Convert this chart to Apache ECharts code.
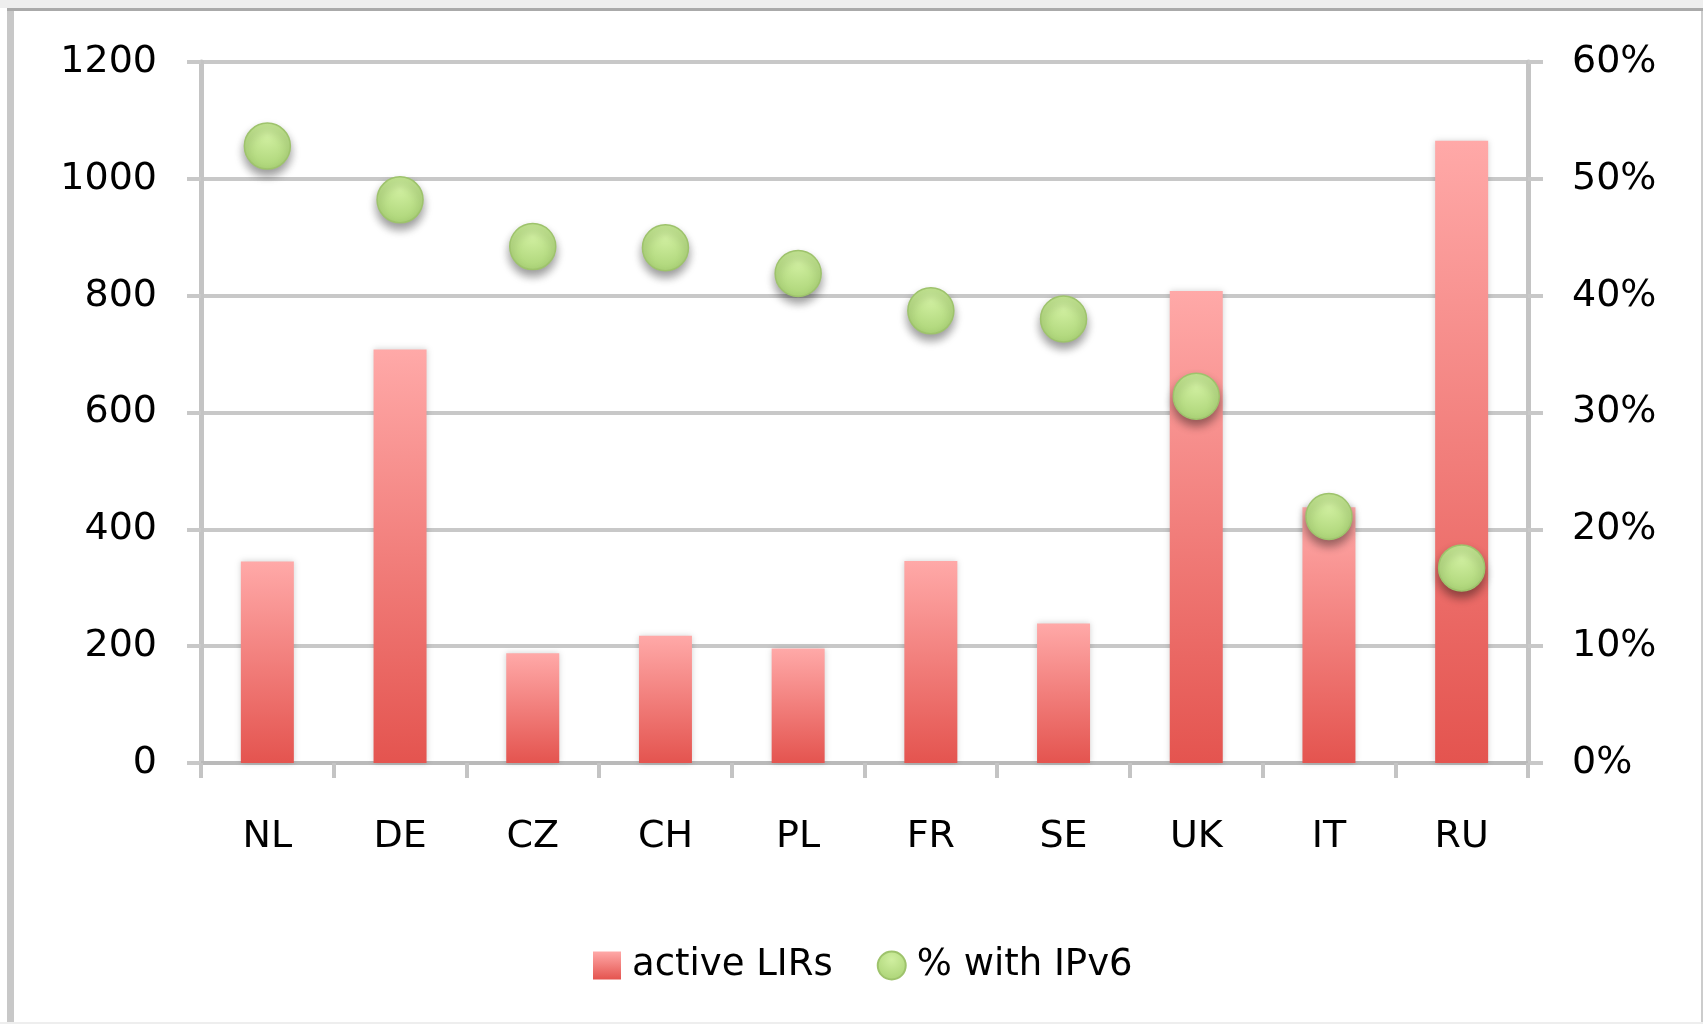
<!DOCTYPE html>
<html>
<head>
<meta charset="utf-8">
<script src="https://cdn.jsdelivr.net/npm/echarts@6/dist/echarts.min.js"></script>
<style>
  html, body { margin: 0; padding: 0; background: #fff; }
  #topband { position: absolute; left: 0; top: 0; width: 1703px; height: 8px; background: #eeeeee; }
  #topline { position: absolute; left: 7px; top: 8px; width: 1696px; height: 3px; background: #aaaaaa; }
  #leftline { position: absolute; left: 7px; top: 11px; width: 7px; height: 1011px; background: #c8c8c8; }
  #rightline { position: absolute; left: 1701px; top: 11px; width: 2px; height: 1011px; background: #cccccc; }
  #bottomband { position: absolute; left: 0; top: 1022px; width: 1703px; height: 2px; background: #eeeeee; }
  #chart { position: absolute; left: 0; top: 0; width: 1703px; height: 1024px; }
</style>
</head>
<body>
<div id="topband"></div>
<div id="topline"></div>
<div id="leftline"></div>
<div id="rightline"></div>
<div id="bottomband"></div>
<div id="chart"></div>
<script>
// countries
var countries = ['NL', 'DE', 'CZ', 'CH', 'PL', 'FR', 'SE', 'UK', 'IT', 'RU']
// number of active LIRs
var activeLirs = [345, 708, 188, 218, 196, 346, 239, 808, 438, 1065]
// share of LIRs with IPv6, in %
var withIpv6 = [52.8, 48.2, 44.2, 44.1, 41.9, 38.7, 38.0, 31.4, 21.1, 16.7]

var font = 'DejaVu Sans'
var mycharts = echarts.init(document.getElementById('chart'))

mycharts.setOption({
  animation: false,
  grid: {
    left: 201,
    right: 175,
    top: 62,
    bottom: 261,
    containLabel: false,
  },
  legend: {
    left: 588,
    top: 942,
    itemWidth: 28,
    itemHeight: 28,
    itemGap: 44,
    textStyle: {
      fontFamily: font,
      fontSize: 37,
      color: '#000',
      padding: [0, 0, 0, 6],
    },
    data: [
      { name: 'active LIRs', icon: 'rect' },
      { name: '% with IPv6', icon: 'circle' },
    ],
  },
  xAxis: {
    type: 'category',
    data: countries,
    boundaryGap: true,
    axisLine: {
      lineStyle: { color: '#bababa', width: 4 },
    },
    axisTick: {
      show: true,
      length: 15,
      lineStyle: { color: '#c4c4c4', width: 4 },
    },
    axisLabel: {
      margin: 55,
      fontFamily: font,
      fontSize: 38,
      color: '#000',
    },
  },
  yAxis: [
    {
      type: 'value',
      min: 0,
      max: 1200,
      interval: 200,
      axisLine: {
        show: true,
        lineStyle: { color: '#c4c4c4', width: 5 },
      },
      axisTick: {
        show: true,
        length: 14,
        lineStyle: { color: '#c8c8c8', width: 4 },
      },
      axisLabel: {
        margin: 44,
        fontFamily: font,
        fontSize: 38,
        color: '#000',
        formatter: function (value) {
          return String(value)
        },
      },
      splitLine: {
        lineStyle: { color: '#c8c8c8', width: 4 },
      },
    },
    {
      type: 'value',
      min: 0,
      max: 60,
      interval: 10,
      position: 'right',
      axisLine: {
        show: true,
        lineStyle: { color: '#c4c4c4', width: 5 },
      },
      axisTick: {
        show: true,
        length: 15,
        lineStyle: { color: '#c8c8c8', width: 4 },
      },
      axisLabel: {
        margin: 44,
        fontFamily: font,
        fontSize: 38,
        color: '#000',
        formatter: '{value}%',
      },
      splitLine: { show: false },
    },
  ],
  series: [
    {
      name: 'active LIRs',
      type: 'bar',
      barWidth: 53,
      data: activeLirs,
      itemStyle: {
        color: new echarts.graphic.LinearGradient(0, 0, 0, 1, [
          { offset: 0, color: '#ffa9a8' },
          { offset: 1, color: '#e4544f' },
        ]),
        shadowBlur: 6,
        shadowColor: 'rgba(0,0,0,0.18)',
      },
    },
    {
      name: '% with IPv6',
      type: 'scatter',
      yAxisIndex: 1,
      symbol: 'circle',
      symbolSize: 46,
      data: withIpv6,
      z: 5,
      itemStyle: {
        color: new echarts.graphic.RadialGradient(0.5, 0.3, 0.75, [
          { offset: 0, color: '#d0efa0' },
          { offset: 1, color: '#a9d274' },
        ]),
        borderColor: '#9ec36c',
        borderWidth: 1.5,
        opacity: 1,
        shadowBlur: 10,
        shadowOffsetY: 6,
        shadowColor: 'rgba(0,0,0,0.4)',
      },
    },
  ],
})
</script>
</body>
</html>
